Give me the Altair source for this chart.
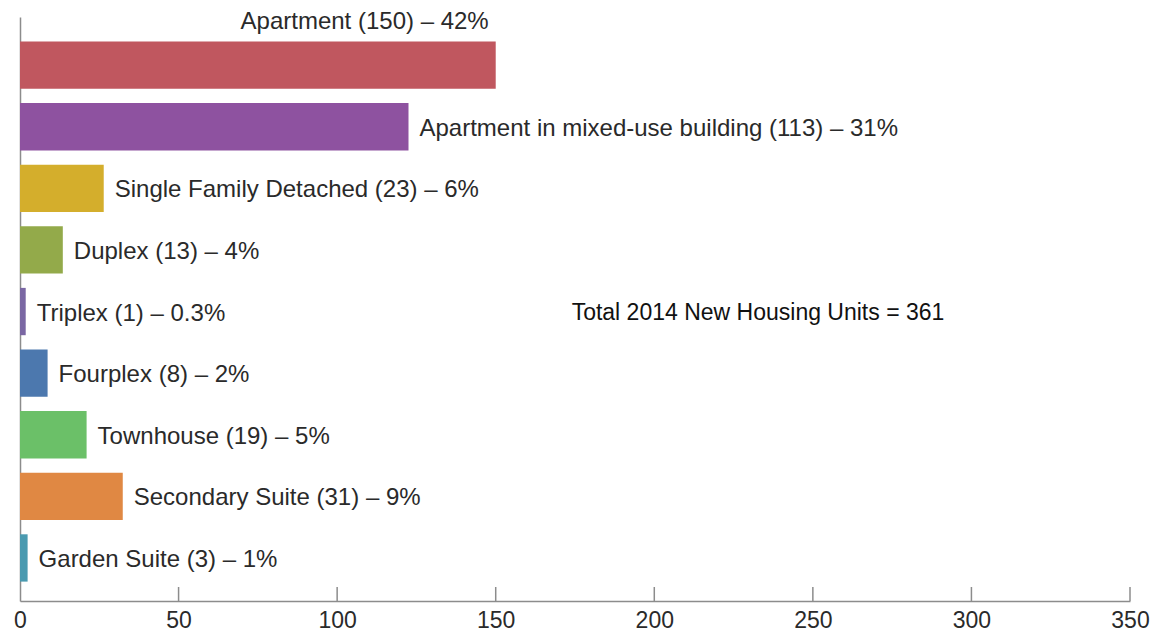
import altair as alt
import pandas as pd

categories = ["Apartment", "Apartment in mixed-use building", "Single Family Detached",
              "Duplex", "Triplex", "Fourplex", "Townhouse", "Secondary Suite", "Garden Suite"]
bar_values = [150, 122.5, 26.4, 13.5, 1.8, 8.7, 21, 32.4, 2.4]
labels = ["Apartment (150) \u2013 42%", "Apartment in mixed-use building (113) \u2013 31%",
          "Single Family Detached (23) \u2013 6%", "Duplex (13) \u2013 4%", "Triplex (1) \u2013 0.3%",
          "Fourplex (8) \u2013 2%", "Townhouse (19) \u2013 5%", "Secondary Suite (31) \u2013 9%",
          "Garden Suite (3) \u2013 1%"]
colors = ["#C0575F", "#8E52A0", "#D4AE2C", "#93AA4A", "#7A67A3",
          "#4C78AE", "#6BC068", "#E08843", "#4A9AB0"]
tick_values = [0, 50, 100, 150, 200, 250, 300, 350]
total_text = "Total 2014 New Housing Units = 361"
total_x = 232.7
total_row = "Triplex"

df = pd.DataFrame({"cat": categories, "value": bar_values, "label": labels, "color": colors})
ticks_df = pd.DataFrame({"t": tick_values[1:]})
total_df = pd.DataFrame({"cat": [total_row], "x": [total_x], "text": [total_text]})

FONT = "Liberation Sans"
AX = "#8c8c8c"

xscale = alt.Scale(domain=[0, 350], nice=False, zero=True)
yscale = alt.Scale(paddingInner=0.232, paddingOuter=0.356, align=0.558)

y_enc = alt.Y("cat:N", sort=categories, scale=yscale,
              axis=alt.Axis(title=None, labels=False, ticks=False, domain=True,
                            domainColor=AX, domainWidth=1.5, grid=False))
x_enc = alt.X("value:Q", scale=xscale,
              axis=alt.Axis(title=None, values=tick_values, ticks=False, grid=False,
                            domainColor=AX, domainWidth=1.5, labelFont=FONT,
                            labelFontSize=23, labelColor="#2a2a2a", labelPadding=8,
                            labelFlush=False, labelOverlap=False))

bars = alt.Chart(df).mark_bar().encode(
    x=x_enc, y=y_enc,
    color=alt.Color("color:N", scale=None),
)

first = df.iloc[:1]
rest = df.iloc[1:]

text_rest = alt.Chart(rest).mark_text(
    align="left", baseline="middle", dx=11, dy=2, font=FONT, fontSize=24, color="#2a2a2a"
).encode(x=alt.X("value:Q", scale=xscale), y=alt.Y("cat:N", sort=categories, scale=yscale), text="label:N")

text_first = alt.Chart(first).mark_text(
    align="right", baseline="middle", dx=-7, dy=-43, font=FONT, fontSize=24, color="#2a2a2a"
).encode(x=alt.X("value:Q", scale=xscale), y=alt.Y("cat:N", sort=categories, scale=yscale), text="label:N")

total = alt.Chart(total_df).mark_text(
    align="center", baseline="middle", dy=1, font=FONT, fontSize=23, color="#111"
).encode(x=alt.X("x:Q", scale=xscale), y=alt.Y("cat:N", sort=categories, scale=yscale), text="text:N")

tick_rules = alt.Chart(ticks_df).mark_rule(color=AX, strokeWidth=1.5).encode(
    x=alt.X("t:Q", scale=xscale), y=alt.value(570), y2=alt.value(584)
)

chart = alt.layer(bars, tick_rules, text_rest, text_first, total).properties(
    width=1110, height=584,
    padding={"top": 2, "left": 5, "right": 5, "bottom": 5},
).configure_view(stroke=None)

chart.save("out.html", embed_options={"renderer": "svg", "actions": False})
